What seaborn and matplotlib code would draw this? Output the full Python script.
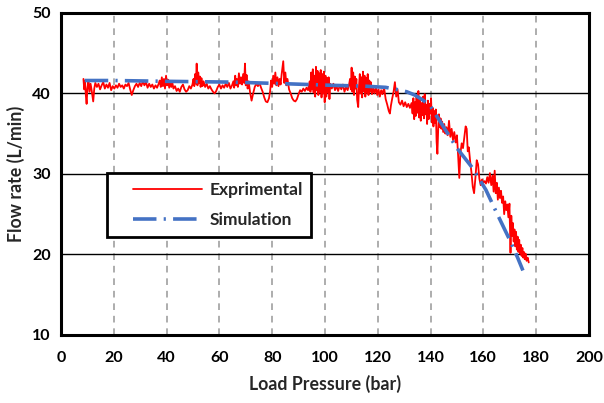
import matplotlib
matplotlib.use("Agg")
import matplotlib.pyplot as plt
from matplotlib.legend_handler import HandlerLine2D
import seaborn as sns
import numpy as np
import pandas as pd

# ---------------- data ----------------
exp_x = [8.5, 8.8, 9.1, 9.4, 9.7, 10.0, 10.4, 10.8, 11.2, 11.6, 12.2, 12.6, 13.0,
         13.6, 14.2, 14.8, 15.4, 16.0, 16.6, 17.2, 17.8, 18.4, 19.0, 19.6, 20.2, 20.8, 21.4, 22.0, 22.6,
         23.2, 23.8, 24.4, 25.0, 25.6, 26.2, 26.8, 27.4, 28.0, 28.6, 29.2, 29.8, 30.4, 31.0, 31.6, 32.2,
         32.8, 33.4, 34.0, 34.6, 35.2, 35.8, 36.4, 37.0,
         37.4, 37.8, 38.2, 38.6, 39.0, 39.4, 39.8, 40.2, 40.6, 41.0, 41.4, 41.8, 42.2, 42.6,
         43.2, 43.8, 44.4, 45.0, 45.6, 46.2, 46.8, 47.4, 48.0, 48.6, 49.2, 49.8,
         50.2, 50.5, 50.8, 51.1, 51.4, 51.7, 52.0, 52.3, 52.6, 52.9, 53.2, 53.6, 54.0,
         54.6, 55.2, 55.8, 56.4, 57.0, 57.6, 58.2, 58.8, 59.4, 60.0, 60.6, 61.2, 61.8, 62.4, 63.0, 63.6, 64.2, 64.8,
         65.3, 65.6, 66.0, 66.3, 66.6, 67.0, 67.4, 67.8, 68.2, 68.6, 69.0, 69.4, 69.7, 70.0, 70.3, 70.7, 71.1, 71.6, 72.2, 72.8,
         73.4, 74.0, 74.6, 75.2, 75.8, 76.4, 77.0, 77.6, 78.2, 78.8, 79.2,
         79.6, 80.0, 80.4, 80.8, 81.2, 81.6, 82.0, 82.4, 82.8, 83.2, 83.6, 84.2, 84.6, 85.0, 85.4, 85.8,
         86.4, 87.0, 87.6, 88.2, 88.8, 89.4, 90.0, 90.6, 91.2, 91.8, 92.4, 93.0, 93.6,
         94.2, 94.5, 94.8, 95.1, 95.4, 95.7, 96.0, 96.3, 96.6, 96.9, 97.2, 97.5, 97.8, 98.1, 98.4, 98.7,
         99.0, 99.3, 99.6, 99.9, 100.2, 100.5, 100.8, 101.1, 101.4, 101.7, 102.0,
         102.6, 103.2, 103.8, 104.4, 105.0, 105.6, 106.2, 106.8, 107.4, 108.0, 108.6, 109.2,
         109.5, 109.8, 110.1, 110.4, 110.7, 111.0, 111.3, 111.6, 111.9, 112.2, 112.6, 112.9, 113.2, 113.5,
         113.8, 114.1, 114.4, 114.7, 115.0, 115.3, 115.6, 115.9, 116.2, 116.5, 116.8, 117.1, 117.4, 117.8,
         118.3, 118.8, 119.3, 119.8, 120.3, 120.8, 121.3, 121.8, 122.4, 123.0, 123.6, 124.2, 124.6, 125.0, 125.5,
         126.0, 126.5, 127.0, 127.5, 128.0, 128.6, 129.2, 129.8, 130.4, 131.0, 131.6, 132.2, 132.8,
         133.2, 133.5, 133.8, 134.1, 134.4, 134.7, 135.0, 135.4, 135.7, 136.0, 136.3, 136.6, 136.9, 137.2,
         137.5, 137.8, 138.1, 138.4, 138.7, 139.0, 139.3, 139.6, 139.9, 140.2, 140.5, 140.8, 141.1, 141.4,
         141.7, 142.0, 142.3, 142.6, 142.9, 143.2, 143.5, 143.8, 144.1, 144.4, 144.8, 145.2, 145.6, 146.0,
         146.5, 147.0, 147.5, 148.0, 148.5, 149.0, 149.5, 150.0, 150.5, 150.9, 151.3, 151.8, 152.3, 152.8,
         153.3, 153.7, 154.1,
         154.5, 155.0, 155.5, 156.0, 156.5, 157.0, 157.5, 158.0, 158.5, 159.0, 159.5, 160.0, 160.5, 161.0,
         161.5, 162.0,
         162.5, 163.0, 163.5, 163.9, 164.3, 164.7, 165.1, 165.5, 165.9, 166.3, 166.7, 167.1, 167.5, 167.9,
         168.3, 168.7, 169.1, 169.5, 169.9, 170.3, 170.6, 170.9, 171.2, 171.5, 171.8, 172.1, 172.4, 172.7,
         173.0, 173.3, 173.6, 173.9, 174.2, 174.5, 174.8, 175.1, 175.4, 175.7, 176.0, 176.4, 176.8, 177.2]
exp_y = [41.8, 40.5, 41.6, 39.8, 38.7, 40.6, 41.5, 40.2, 41.2, 40.4, 39.0, 40.6, 41.3,
         40.8, 41.2, 40.5, 41.0, 41.4, 40.6, 41.1, 40.7, 41.3, 40.4, 40.9, 40.6, 41.0, 40.7, 41.2, 40.8,
         41.0, 40.6, 41.1, 40.9, 41.3, 40.5, 39.8, 40.4, 40.9, 41.2, 40.8, 41.3, 40.9, 41.5, 41.0, 41.4,
         40.7, 41.2, 40.8, 41.1, 40.6, 41.0, 40.7, 41.2,
         41.6, 40.8, 42.0, 40.9, 41.8, 40.6, 42.2, 41.0, 41.7, 40.7, 41.5, 40.8, 41.3, 40.6,
         40.9, 40.3, 40.6, 40.2, 40.8, 41.1, 40.5, 40.2, 40.4, 40.9, 40.6, 41.1,
         41.8, 40.9, 42.4, 41.2, 43.7, 41.0, 42.6, 41.3, 42.1, 40.8, 41.9, 40.9, 41.5,
         40.8, 41.2, 40.6, 40.9, 40.5, 40.2, 40.0, 40.3, 40.8, 41.1, 40.6, 41.0, 40.7, 41.2, 40.8, 41.3, 40.6, 41.0,
         41.5, 40.7, 42.2, 41.0, 41.8, 40.8, 42.5, 41.2, 42.0, 41.1, 42.4, 41.3, 43.7, 41.0, 42.3, 40.6, 41.5, 40.2, 39.1, 40.0,
         40.8, 41.2, 40.9, 41.3, 40.7, 40.2, 39.5, 39.0, 38.9, 39.4, 40.2,
         41.6, 40.8, 42.2, 41.2, 42.6, 41.0, 42.0, 40.9, 41.8, 41.1, 42.4, 44.0, 41.3, 42.6, 41.0, 41.8,
         40.5, 40.0, 39.4, 39.1, 39.0, 39.3, 39.9, 40.4, 40.2, 40.6, 40.3, 40.7, 40.4,
         41.5, 40.2, 42.6, 40.5, 43.0, 40.1, 42.2, 39.6, 43.3, 40.4, 42.8, 39.8, 42.5, 40.2, 42.9, 39.5,
         42.4, 40.0, 42.7, 38.9, 42.2, 39.6, 41.9, 40.1, 42.0, 39.3, 41.2,
         40.6, 41.2, 40.4, 40.9, 40.3, 41.0, 40.5, 41.1, 40.2, 40.8, 40.4, 41.2,
         41.8, 40.5, 43.2, 40.2, 42.6, 39.8, 42.1, 40.6, 41.8, 39.2, 38.3, 40.9, 42.4, 40.0,
         42.0, 39.5, 42.7, 40.3, 42.2, 39.6, 41.9, 40.1, 42.4, 39.8, 41.6, 40.2, 41.4, 39.9,
         40.6, 40.0, 40.8, 39.8, 40.5, 39.6, 40.4, 39.9, 40.7, 39.3, 38.6, 37.8, 37.5, 38.5, 39.4,
         40.2, 41.4, 39.6, 40.5, 38.9, 38.6, 39.1, 38.4, 38.9, 38.3, 38.7, 38.2, 38.8,
         37.5, 39.4, 36.8, 38.9, 37.2, 39.8, 37.6, 40.3, 37.0, 39.2, 36.6, 38.8, 37.3, 39.6,
         36.9, 39.9, 37.4, 38.6, 36.2, 39.1, 36.8, 38.7, 37.5, 39.4, 36.4, 38.2, 35.9, 37.8,
         36.3, 38.0, 34.0, 32.5, 35.5, 37.4, 35.8, 36.9, 35.6, 36.5, 35.2, 36.2, 35.0, 35.8,
         34.8, 36.6, 34.6, 35.6, 34.2, 35.2, 33.9, 34.8, 32.0, 29.5, 32.5, 33.8, 33.2, 34.6,
         35.9, 35.6, 32.8,
         33.3, 31.6, 30.2, 28.4, 27.6, 29.5, 31.7, 31.2, 29.4, 28.6, 29.3, 28.9, 29.1, 28.8,
         29.6, 28.9,
         30.1, 28.6, 29.8, 27.8, 30.4, 27.6, 28.9, 26.8, 28.3, 27.0, 27.9, 26.4, 27.2, 25.0,
         26.6, 25.5, 26.2, 24.6, 26.3, 20.2, 24.8, 22.3, 23.9, 21.6, 23.1, 21.0, 22.8, 20.6,
         22.2, 20.3, 21.8, 20.1, 21.2, 19.8, 20.8, 19.6, 20.3, 19.4, 20.1, 19.2, 19.6, 19.0]

sim_x = [9, 20, 40, 65, 85, 103, 115, 123, 127, 131, 134, 137, 140, 145, 150, 156, 161, 165, 170, 173, 175]
sim_y = [41.6, 41.6, 41.5, 41.4, 41.2, 41.0, 40.9, 40.75, 40.5, 40.2, 39.8, 39.2, 38.4, 35.8, 33.2,
         30.7, 28.0, 25.2, 21.8, 19.6, 18.0]

x_ticks = [0, 20, 40, 60, 80, 100, 120, 140, 160, 180, 200]
y_ticks = [10, 20, 30, 40, 50]

df_exp = pd.DataFrame({"x": exp_x, "y": exp_y})
df_sim = pd.DataFrame({"x": sim_x, "y": sim_y})


class InsetLineHandler(HandlerLine2D):
    """Legend line that starts a little inside the handle box."""
    def get_xdata(self, legend, xdescent, ydescent, width, height, fontsize):
        xdata, xdata_marker = super().get_xdata(legend, xdescent, ydescent,
                                                width, height, fontsize)
        shift = 0.2 * width
        xdata = [-xdescent + shift, -xdescent + width]
        return xdata, xdata_marker


# ---------------- style ----------------
sns.set_style("white")
plt.rcParams["font.family"] = ["Lato", "DejaVu Sans"]
plt.rcParams["font.weight"] = "bold"

fig = plt.figure(figsize=(6.04, 4.03), dpi=100)
ax = fig.add_axes([0.101, 0.169, 0.874, 0.799])

# grid
for xv in x_ticks[1:-1]:
    ax.axvline(xv, color="#a0a0a0", lw=1.2, linestyle=(0, (4, 3.5)), zorder=0)
for yv in y_ticks[1:-1]:
    ax.axhline(yv, color="black", lw=1.0, zorder=0)

sns.lineplot(data=df_exp, x="x", y="y", ax=ax, color="#ff0000", lw=1.3,
             sort=False, estimator=None, label="Exprimental", zorder=3)
sns.lineplot(data=df_sim, x="x", y="y", ax=ax, color="#4472c4", lw=2.6,
             sort=False, estimator=None, label="Simulation", zorder=4,
             linestyle=(0, (6.5, 2.0, 0.6, 2.0)))

ax.set_xlim(0, 200)
ax.set_ylim(10, 50)
ax.set_xticks(x_ticks)
ax.set_yticks(y_ticks)
ax.tick_params(axis="both", direction="inout", length=7, width=1.5, labelsize=11.5,
               colors="black", pad=4)
for lab in ax.get_xticklabels() + ax.get_yticklabels():
    lab.set_fontweight("bold")
ax.tick_params(axis="x", pad=8)

for sp in ax.spines.values():
    sp.set_visible(True)
    sp.set_color("black")
    sp.set_linewidth(2.2)

ax.set_xlabel("Load Pressure (bar)", fontsize=12.8, fontweight="bold")
ax.set_ylabel("Flow rate (L/min)", fontsize=12.8, fontweight="bold")
ax.xaxis.set_label_coords(0.5, -0.125)
ax.yaxis.set_label_coords(-0.068, 0.5)

handles, labels = ax.get_legend_handles_labels()
leg = ax.legend(handles, labels, loc="upper left", bbox_to_anchor=(0.087, 0.503),
                frameon=True, fancybox=False, handlelength=5.0, handletextpad=0.4,
                borderpad=0.5, labelspacing=0.84,
                prop={"weight": "bold", "size": 12.5}, borderaxespad=0,
                handler_map={h: InsetLineHandler() for h in handles})
leg.get_frame().set_edgecolor("black")
leg.get_frame().set_linewidth(2.0)
leg.get_frame().set_alpha(1)
leg.set_zorder(10)

fig.savefig("out.png", dpi=100)
